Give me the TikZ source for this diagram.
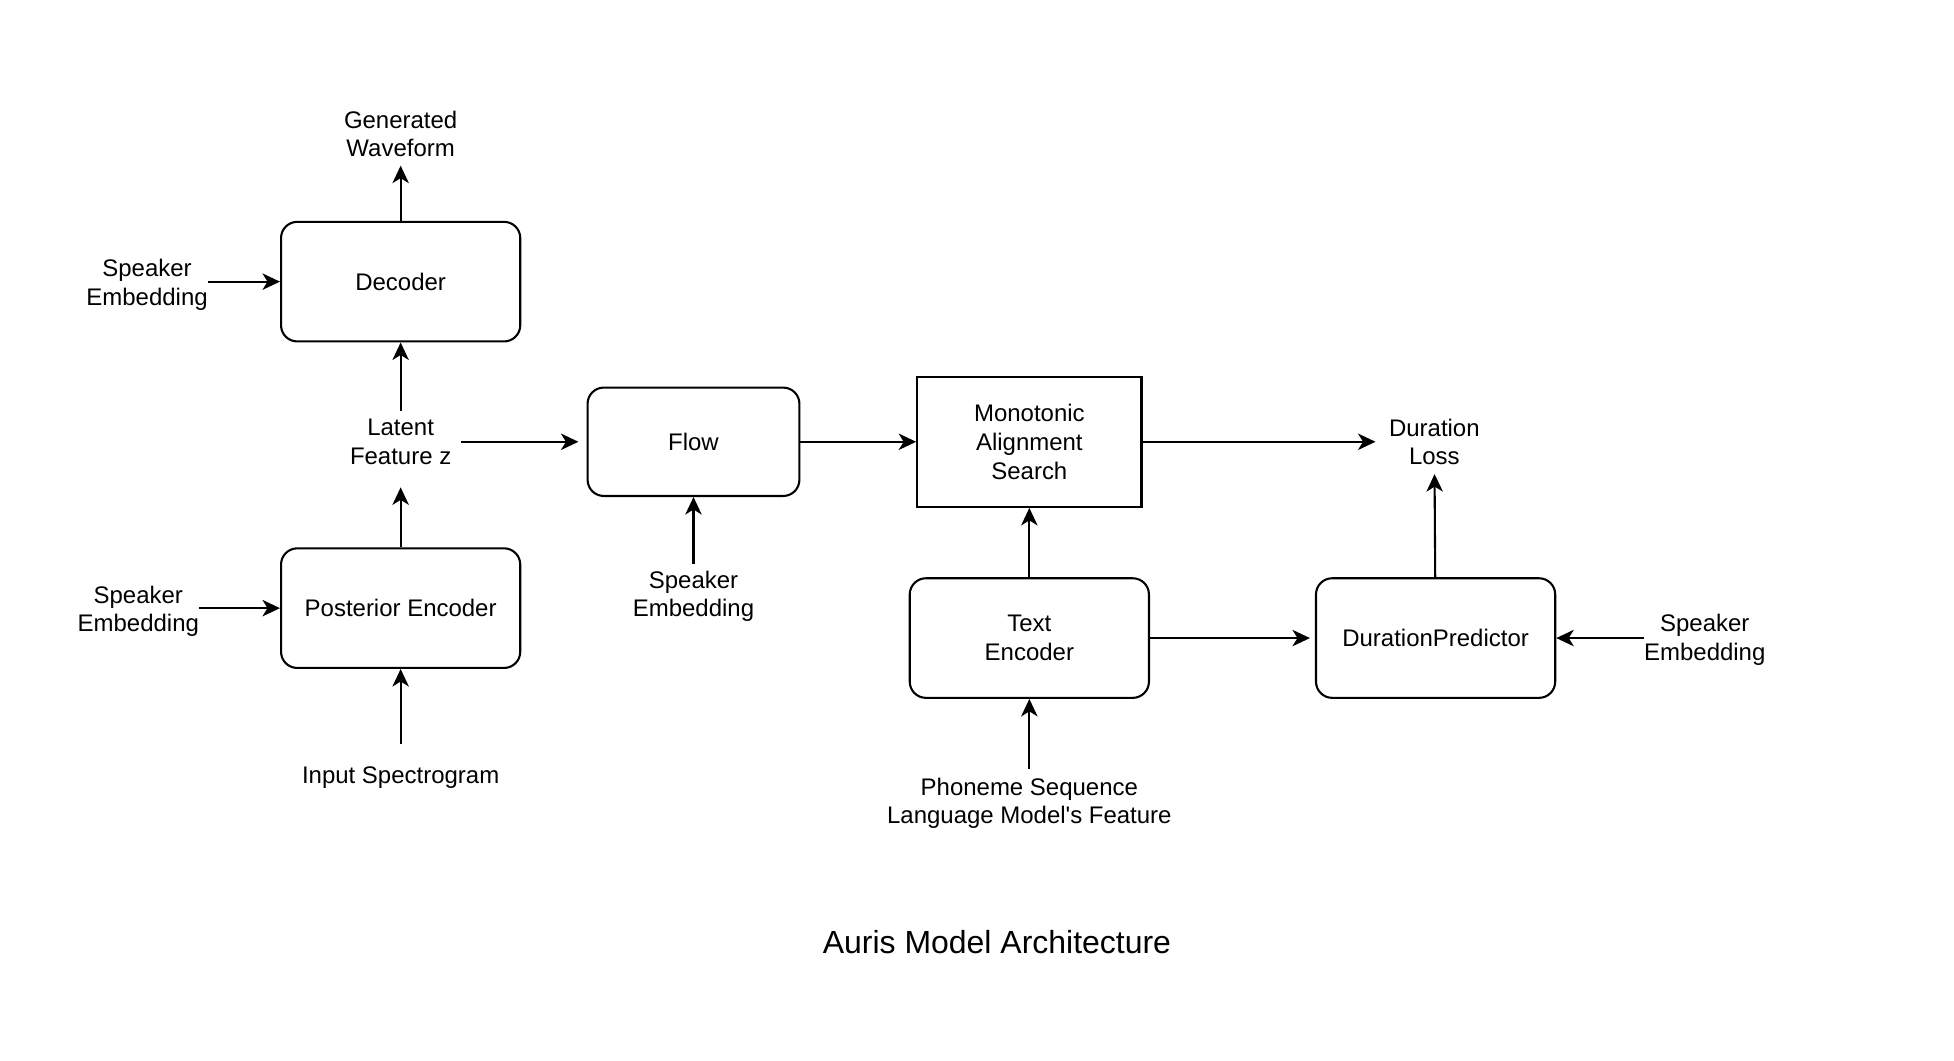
\documentclass[tikz,border=0pt]{standalone}
\usepackage{fontspec}
\setmainfont{Liberation Sans}
\usepackage{tikz}
\usetikzlibrary{arrows.meta, positioning, calc}

\begin{document}
\begin{tikzpicture}[
    x=0.02cm, y=-0.02cm,
    font=\fontsize{10.95pt}{13.1pt}\selectfont,
    block/.style={rectangle, draw, rounded corners=0.26cm, line width=0.95pt, minimum width=3.84cm, minimum height=1.92cm, align=center},
    search/.style={rectangle, draw, line width=0.95pt, minimum width=3.6cm, minimum height=2.09cm, align=center},
    signal/.style={inner sep=0pt, align=center},
    flow/.style={draw, line width=0.95pt, -{Stealth[length=8pt, width=7.5pt, inset=2.3pt]}}
]
    \useasboundingbox (0,0) rectangle (1568,850.6);

    % Blocks
    \node[block] (decoder) at (321.5,226) {Decoder};
    \node[block] (posterior) at (321.5,488) {Posterior Encoder};
    \node[block, minimum width=3.4cm, minimum height=1.74cm] (flowblock) at (556.5,354.5) {Flow};
    \node[search] (mas) at (826,354.5) {Monotonic\\Alignment\\Search};
    \node[block] (textenc) at (826,512) {Text\\Encoder};
    \node[block] (durpred) at (1152,512) {DurationPredictor};

    % Signals
    \node[signal] (waveform) at (321.5,107.5) {Generated\\Waveform};
    \node[signal] (spkdec) at (118,228.5) {Speaker\\Embedding};
    \node[signal] (latent) at (321.5,354.5) {Latent\\Feature z};
    \node[signal] (spkpost) at (111,490.5) {Speaker\\Embedding};
    \node[signal] (spectrogram) at (321.5,624) {Input Spectrogram};
    \node[signal] (spkflow) at (556.5,478.5) {Speaker\\Embedding};
    \node[signal] (durloss) at (1151,354.5) {Duration\\Loss};
    \node[signal] (phoneme) at (826,644.5) {Phoneme Sequence\\Language Model\textquotesingle s Feature};
    \node[signal] (spkdur) at (1368,513.5) {Speaker\\Embedding};
    \node[signal, font=\fontsize{14.6pt}{17pt}\selectfont] (title) at (800,756) {Auris Model Architecture};

    % Connections
    \draw[flow, shorten >=0.13cm] (decoder) -- (waveform);
    \draw[flow] (spkdec.east |- decoder) -- (decoder);
    \draw[flow, shorten <=0.12cm] (latent) -- (decoder);
    \draw[flow, shorten >=0.36cm] (posterior) -- (latent);
    \draw[flow, shorten <=0.15cm, shorten >=0.13cm] (latent) -- (flowblock);
    \draw[flow] (flowblock) -- (mas);
    \draw[flow, shorten >=0.21cm] (mas) -- (durloss);
    \draw[flow, shorten <=0.11cm] (spkflow) -- (flowblock);
    \draw[flow] (spkpost.east |- posterior) -- (posterior);
    \draw[flow, shorten <=0.36cm] (spectrogram) -- (posterior);
    \draw[flow] (textenc) -- (mas);
    \draw[flow, shorten <=0.14cm] (phoneme) -- (textenc);
    \draw[flow, shorten >=0.08cm] (textenc) -- (durpred);
    \draw[flow, shorten >=0.14cm] (durpred) -- (durloss);
    \draw[flow] (spkdur.west |- durpred) -- (durpred);
\end{tikzpicture}
\end{document}
